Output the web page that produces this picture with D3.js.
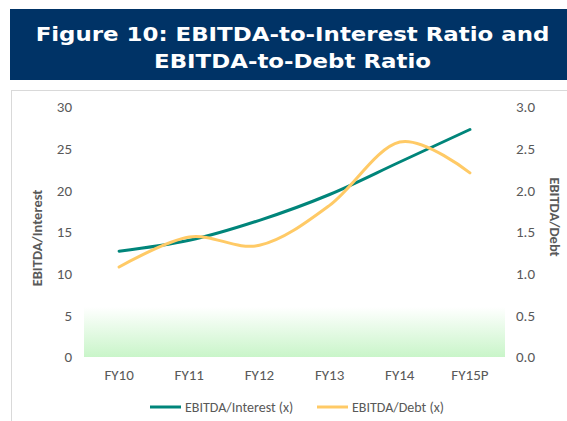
<!DOCTYPE html>
<html>
<head>
<meta charset="utf-8">
<script src="https://cdn.jsdelivr.net/npm/d3@7"></script>
<style>
  body { margin: 0; background: #fff; }
  svg { display: block; }
</style>
</head>
<body>
<script>
const categories = ['FY10', 'FY11', 'FY12', 'FY13', 'FY14', 'FY15P'];
const interestRatio = [12.7, 14.0, 16.4, 19.5, 23.4, 27.3];
const debtRatio = [1.08, 1.44, 1.34, 1.82, 2.58, 2.21];
const leftTicks = [0, 5, 10, 15, 20, 25, 30];
const rightTicks = [0, 0.5, 1, 1.5, 2, 2.5, 3];
const bandTop = 6; // top of the green band, left-axis units

const W = 567, H = 421;
const svg = d3.select('body').append('svg')
    .attr('width', W)
    .attr('height', H);

// title box
svg.append('rect')
    .attr('x', 10).attr('y', 9)
    .attr('width', 557).attr('height', 71)
    .attr('fill', '#003366');

const titleLines = ['Figure 10: EBITDA-to-Interest Ratio and', 'EBITDA-to-Debt Ratio'];
svg.selectAll('.title')
    .data(titleLines)
    .enter()
  .append('text')
    .attr('class', 'title')
    .attr('transform', (d, i) => `translate(292.5,${41 + i * 27}) scale(1.145,1)`)
    .attr('text-anchor', 'middle')
    .attr('fill', '#fff')
    .style('font-family', 'Verdana, "DejaVu Sans", sans-serif')
    .style('font-weight', 'bold')
    .style('font-size', '20px')
    .text(d => d);

// chart frame
svg.append('rect')
    .attr('x', 11.5).attr('y', 90.5)
    .attr('width', 560).attr('height', 340)
    .attr('fill', 'none')
    .attr('stroke', '#d9d9d9');

const x = d3.scaleBand()
    .domain(categories)
    .range([84, 505]);

const yL = d3.scaleLinear().domain([0, 30]).range([357, 107]);
const yR = d3.scaleLinear().domain([0, 3]).range([357, 107]);

// green band
const grad = svg.append('defs').append('linearGradient')
    .attr('id', 'band')
    .attr('x1', 0).attr('y1', 0).attr('x2', 0).attr('y2', 1);
grad.append('stop').attr('offset', '0%').attr('stop-color', '#ffffff');
grad.append('stop').attr('offset', '100%').attr('stop-color', '#c9f5c9');

svg.append('rect')
    .attr('x', x.range()[0])
    .attr('y', yL(bandTop))
    .attr('width', x.range()[1] - x.range()[0])
    .attr('height', yL(0) - yL(bandTop))
    .attr('fill', 'url(#band)');

const font = 'Calibri, Carlito, Lato, sans-serif';

// axes
const leftAxis = svg.append('g')
    .attr('transform', 'translate(78,0)')
    .call(d3.axisLeft(yL).tickValues(leftTicks).tickSize(0).tickPadding(6));
const rightAxis = svg.append('g')
    .attr('transform', 'translate(512,0)')
    .call(d3.axisRight(yR).tickValues(rightTicks).tickFormat(d3.format('.1f')).tickSize(0).tickPadding(4));
const bottomAxis = svg.append('g')
    .attr('transform', 'translate(0,367)')
    .call(d3.axisBottom(x).tickSize(0).tickPadding(2));

[leftAxis, rightAxis, bottomAxis].forEach(g => {
  g.select('.domain').remove();
  g.selectAll('text')
      .attr('fill', '#595959')
      .style('font-family', font)
      .style('font-size', '15px');
});

// axis titles
svg.append('text')
    .attr('transform', 'translate(42,238) rotate(-90)')
    .attr('text-anchor', 'middle')
    .attr('fill', '#595959')
    .style('font-family', font)
    .style('font-weight', 'bold')
    .style('font-size', '14.5px')
    .text('EBITDA/Interest');

svg.append('text')
    .attr('transform', 'translate(550,217) rotate(90)')
    .attr('text-anchor', 'middle')
    .attr('fill', '#595959')
    .style('font-family', font)
    .style('font-weight', 'bold')
    .style('font-size', '14.5px')
    .text('EBITDA/Debt');

// lines
const cx = d => x(d) + x.bandwidth() / 2;

svg.append('path')
    .datum(categories.map((c, i) => [cx(c), yL(interestRatio[i])]))
    .attr('fill', 'none')
    .attr('stroke', '#00857a')
    .attr('stroke-width', 3)
    .attr('stroke-linecap', 'round')
    .attr('d', d3.line().curve(d3.curveCardinal));

svg.append('path')
    .datum(categories.map((c, i) => [cx(c), yR(debtRatio[i])]))
    .attr('fill', 'none')
    .attr('stroke', '#ffca66')
    .attr('stroke-width', 3)
    .attr('stroke-linecap', 'round')
    .attr('d', d3.line().curve(d3.curveCardinal));

// legend
const legend = [
  { name: 'EBITDA/Interest (x)', color: '#00857a', x: 150 },
  { name: 'EBITDA/Debt (x)', color: '#ffca66', x: 317 }
];
const lg = svg.selectAll('.legend')
    .data(legend)
    .enter()
  .append('g')
    .attr('class', 'legend')
    .attr('transform', d => `translate(${d.x},407)`);
lg.append('line')
    .attr('x1', 0).attr('x2', 31)
    .attr('stroke', d => d.color)
    .attr('stroke-width', 3);
lg.append('text')
    .attr('x', 35)
    .attr('dy', '0.35em')
    .attr('fill', '#595959')
    .style('font-family', font)
    .style('font-size', '14px')
    .text(d => d.name);
</script>
</body>
</html>
